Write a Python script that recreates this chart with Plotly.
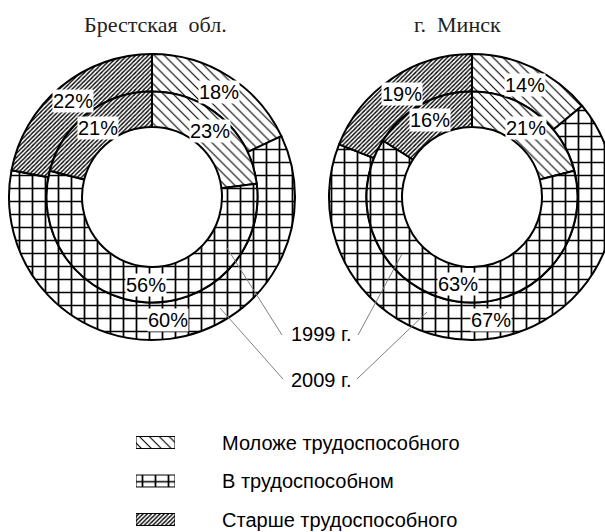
import math
import plotly.graph_objects as go

# ---------------- data ----------------
groups = ["Моложе трудоспособного", "В трудоспособном", "Старше трудоспособного"]
regions = ["Брестская\u00a0\u00a0обл.", "г.\u00a0\u00a0Минск"]
years = ["1999 г.", "2009 г."]
brest_1999 = [23, 56, 21]
brest_2009 = [18, 60, 22]
minsk_1999 = [21, 63, 16]
minsk_2009 = [14, 67, 19]

# ---------------- layout helpers ----------------
W, H = 620, 532          # canvas slightly wider than the window: right ring is clipped like the original


def px(x):
    return x / W


def py(y):
    return 1 - y / H


R_OUT, R_MID, R_HOLE = 143, 105.5, 70
CY = 197
centers = [152, 472]

pattern = dict(
    shape=["\\", "+", "/"],
    size=[7, 13, 3],
    solidity=[0.16, 0.25, 0.45],
    fgcolor="black",
    bgcolor="white",
    fillmode="replace",
)
SANS = "Liberation Sans"

fig = go.Figure()
annotations = []


def text_ann(x, y, text, font):
    return dict(x=px(x), y=py(y), xref="paper", yref="paper", showarrow=False,
                xanchor="center", yanchor="middle", text=text, font=font)


def add_ring(values, cx, r_outer, r_inner):
    fig.add_trace(go.Pie(
        labels=groups,
        values=values,
        sort=False,
        direction="clockwise",
        rotation=0,
        hole=r_inner / r_outer,
        domain=dict(x=[px(cx - r_outer), px(cx + r_outer)],
                    y=[py(CY + r_outer), py(CY - r_outer)]),
        marker=dict(colors=["white"] * 3, line=dict(color="black", width=2),
                    pattern=pattern),
        textinfo="none",
        hoverinfo="label+value",
        showlegend=False,
    ))
    total = sum(values)
    cum = 0
    r_lab = (r_outer + r_inner) / 2
    for v in values:
        ang = 2 * math.pi * (cum + v / 2) / total
        cum += v
        x = cx + r_lab * math.sin(ang)
        y = CY - r_lab * math.cos(ang)
        a = text_ann(x, y, f"{v}%", dict(family=SANS, size=20, color="black"))
        a.update(bgcolor="white", borderpad=0)
        annotations.append(a)


for cx, (v99, v09) in zip(centers, [(brest_1999, brest_2009), (minsk_1999, minsk_2009)]):
    add_ring(v09, cx, R_OUT, R_MID)
    add_ring(v99, cx, R_MID, R_HOLE)

# titles
for tx, name in zip([156, 457], regions):
    annotations.append(text_ann(tx, 25, name,
                                dict(family="Liberation Serif", size=22, color="#222")))

# year labels with leader lines
for ty, label in zip([334, 380], years):
    annotations.append(text_ann(320.5, ty, label, dict(family=SANS, size=20, color="black")))
leaders = [
    ((227, 248), (282, 335)),
    ((402, 254), (358, 335)),
    ((220, 308), (283, 379)),
    ((427, 312), (357, 379)),
]
shapes = [dict(type="line", xref="paper", yref="paper",
               x0=px(a[0]), y0=py(a[1]), x1=px(b[0]), y1=py(b[1]),
               line=dict(color="#808080", width=1)) for a, b in leaders]

# legend swatches (patterned bars) with category labels
fig.add_trace(go.Bar(
    y=groups, x=[1, 1, 1], orientation="h", width=0.31,
    xaxis="x", yaxis="y", showlegend=False, hoverinfo="y",
    marker=dict(color="white", line=dict(color="black", width=1), pattern=pattern),
))

fig.update_layout(
    width=W, height=H,
    margin=dict(l=0, r=0, t=0, b=0),
    paper_bgcolor="white", plot_bgcolor="white",
    annotations=annotations,
    shapes=shapes,
    xaxis=dict(domain=[px(136), px(175)], range=[0, 1], visible=False, fixedrange=True),
    yaxis=dict(domain=[py(531.05), py(423.25)], type="category", range=[2.3, -0.5],
               side="right", showgrid=False, zeroline=False, showline=False,
               ticks="", ticklabelstandoff=46, fixedrange=True,
               tickfont=dict(family=SANS, size=20, color="black")),
    showlegend=False,
)

post = ("document.body.style.margin='0';"
        "document.body.style.overflow='hidden';"
        "document.documentElement.style.overflow='hidden';")
fig.write_html("out.html", post_script=post, config={"displayModeBar": False})
